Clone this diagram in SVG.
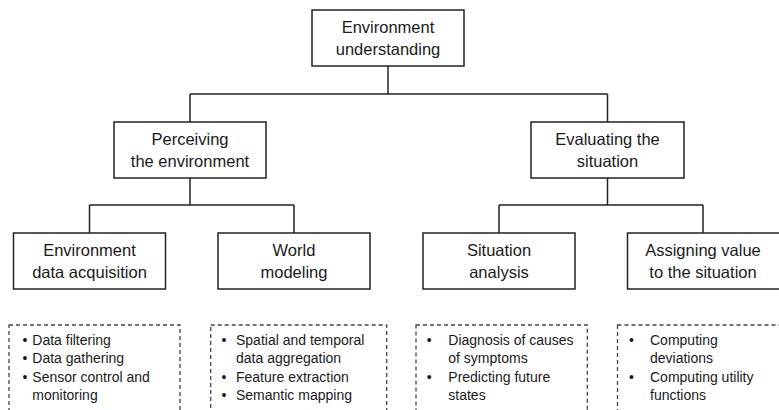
<svg xmlns="http://www.w3.org/2000/svg" width="779" height="410" viewBox="0 0 779 410">
<style>
.box{fill:#fff;stroke:#222;stroke-width:1.5}
.dash{fill:none;stroke:#444;stroke-width:1.3;stroke-dasharray:4 3}
.lbl{font-family:"Liberation Sans",Arial,sans-serif;font-size:16.5px;fill:#1a1a1a;text-anchor:middle}
.item{font-family:"Liberation Sans",Arial,sans-serif;font-size:14px;fill:#1a1a1a}
.bul{text-anchor:middle}
.conn{fill:none;stroke:#222;stroke-width:1.5}
</style>
<rect width="779" height="410" fill="#fff"/>
<g id="connectors">
<path class="conn" d="M388 66V94M190 94H607.5M190 94V122M607.5 94V122"/>
<path class="conn" d="M190 178V205M89.5 205H294M89.5 205V233M294 205V233"/>
<path class="conn" d="M607.5 178V205M499 205H703M499 205V233M703 205V233"/>
</g>
<g id="n-root">
<rect class="box" x="312" y="10" width="152" height="56"/>
<text class="lbl" x="388" y="33">Environment</text>
<text class="lbl" x="388" y="55">understanding</text>
</g>
<g id="n-perceiving">
<rect class="box" x="114" y="122" width="152" height="56"/>
<text class="lbl" x="190" y="145">Perceiving</text>
<text class="lbl" x="190" y="167">the environment</text>
</g>
<g id="n-evaluating">
<rect class="box" x="531" y="122" width="153" height="56"/>
<text class="lbl" x="607.5" y="145">Evaluating the</text>
<text class="lbl" x="607.5" y="167">situation</text>
</g>
<g id="n-acquisition">
<rect class="box" x="13.5" y="233" width="152" height="56"/>
<text class="lbl" x="89.5" y="256">Environment</text>
<text class="lbl" x="89.5" y="278">data acquisition</text>
</g>
<g id="n-modeling">
<rect class="box" x="218" y="233" width="152" height="56"/>
<text class="lbl" x="294" y="256">World</text>
<text class="lbl" x="294" y="278">modeling</text>
</g>
<g id="n-analysis">
<rect class="box" x="423" y="233" width="152" height="56"/>
<text class="lbl" x="499" y="256">Situation</text>
<text class="lbl" x="499" y="278">analysis</text>
</g>
<g id="n-value">
<rect class="box" x="627.5" y="233" width="153.5" height="56"/>
<text class="lbl" x="703" y="256">Assigning value</text>
<text class="lbl" x="703" y="278">to the situation</text>
</g>
<g id="list-acquisition">
<rect class="dash" x="9" y="325" width="171" height="100"/>
<text class="item bul" x="25" y="345">•</text>
<text class="item bul" x="25" y="363.3">•</text>
<text class="item bul" x="25" y="381.7">•</text>
<text class="item" x="32.3" y="345">Data filtering</text>
<text class="item" x="32.3" y="363.3">Data gathering</text>
<text class="item" x="32.3" y="381.7">Sensor control and</text>
<text class="item" x="32.3" y="400">monitoring</text>
</g>
<g id="list-modeling">
<rect class="dash" x="210.7" y="325" width="176" height="100"/>
<text class="item bul" x="224" y="345">•</text>
<text class="item bul" x="224" y="381.7">•</text>
<text class="item bul" x="224" y="400">•</text>
<text class="item" x="236" y="345">Spatial and temporal</text>
<text class="item" x="236" y="363.3">data aggregation</text>
<text class="item" x="236" y="381.7">Feature extraction</text>
<text class="item" x="236" y="400">Semantic mapping</text>
</g>
<g id="list-analysis">
<rect class="dash" x="416" y="325" width="171.3" height="100"/>
<text class="item bul" x="429.3" y="345">•</text>
<text class="item bul" x="429.3" y="381.7">•</text>
<text class="item" x="448.3" y="345">Diagnosis of causes</text>
<text class="item" x="448.3" y="363.3">of symptoms</text>
<text class="item" x="448.3" y="381.7">Predicting future</text>
<text class="item" x="448.3" y="400">states</text>
</g>
<g id="list-value">
<rect class="dash" x="617.5" y="325" width="175" height="100"/>
<text class="item bul" x="631.5" y="345">•</text>
<text class="item bul" x="631.5" y="381.7">•</text>
<text class="item" x="650" y="345">Computing</text>
<text class="item" x="650" y="363.3">deviations</text>
<text class="item" x="650" y="381.7">Computing utility</text>
<text class="item" x="650" y="400">functions</text>
</g>
</svg>
